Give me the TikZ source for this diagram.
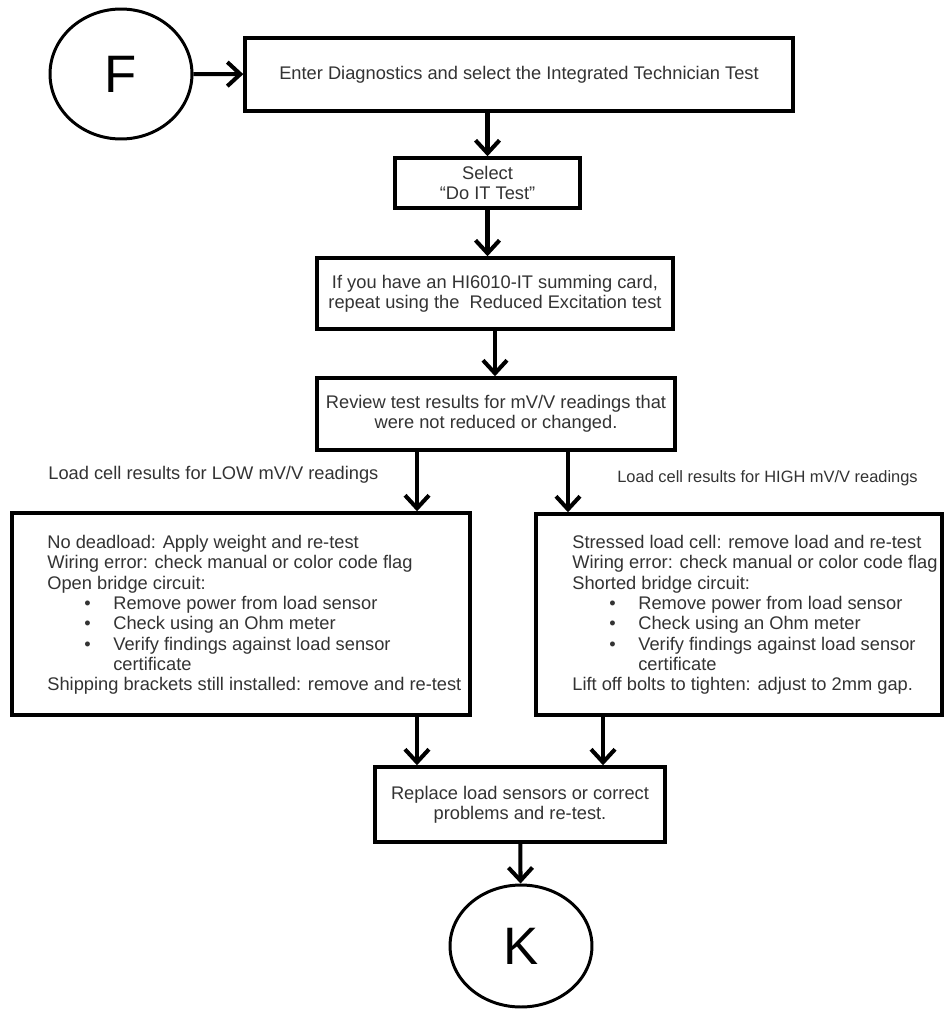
\documentclass[tikz,border=0pt]{standalone}
\usepackage{fontspec}
\setmainfont{Liberation Sans}
\usetikzlibrary{arrows.meta,shapes.geometric}

\newcommand{\bitem}[1]{\makebox[1.32cm][l]{\hspace{0.74cm}\textbullet}#1}
\newcommand{\bcont}[1]{\makebox[1.32cm][l]{}#1}

\tikzset{
  stepbox/.style={draw, line width=2pt, fill=white, text=black!80, align=center,
    font=\fontsize{10.4}{11.6}\selectfont, inner sep=0pt},
  bigtext/.style={anchor=north west, inner sep=0pt, align=left, text=black!80,
    font=\fontsize{10.4}{11.55}\selectfont},
  term/.style={draw, ellipse, line width=1.7pt, inner sep=0pt,
    font=\fontsize{30}{30}\selectfont},
  sidelabel/.style={anchor=west, inner sep=0pt, text=black!80},
  arr/.style={line width=2.3pt, -{Straight Barb[length=2.6mm,width=4.8mm]}}
}

\begin{document}
\begin{tikzpicture}[x=0.02cm, y=-0.02cm]
    \useasboundingbox[fill=white] (0,0) rectangle (944,1011);

    % terminals
    \node[term, minimum width=2.84cm, minimum height=2.6cm] (F) at (121,74) {F};
    \node[term, minimum width=2.84cm, minimum height=2.44cm] (K) at (521,946) {K};

    % steps
    \node[stepbox, minimum width=10.96cm, minimum height=1.46cm] (enter) at (519,74.5)
        {Enter Diagnostics and select the Integrated Technician Test};
    \node[stepbox, minimum width=3.7cm, minimum height=1.0cm] (sel) at (487.5,183)
        {Select\\``Do IT Test''};
    \node[stepbox, minimum width=7.12cm, minimum height=1.42cm] (card) at (495,293.5)
        {If you have an HI6010-IT summing card,\\repeat using the \ Reduced Excitation test};
    \node[stepbox, minimum width=7.16cm, minimum height=1.44cm] (review) at (496,414)
        {Review test results for mV/V readings that\\were not reduced or changed.};
    \node[stepbox, minimum width=9.16cm, minimum height=4.04cm] (low) at (241,614) {};
    \node[stepbox, minimum width=8.12cm, minimum height=4.02cm] (high) at (739,614.5) {};
    \node[stepbox, minimum width=5.8cm, minimum height=1.5cm] (fix) at (520,804.5)
        {Replace load sensors or correct\\problems and re-test.};

    % box contents
    \node[bigtext] (lowtext) at (47,535) {%
        No deadload: Apply weight and re-test\\
        Wiring error: check manual or color code flag\\
        Open bridge circuit:\\
        \bitem{Remove power from load sensor}\\
        \bitem{Check using an Ohm meter}\\
        \bitem{Verify findings against load sensor}\\
        \bcont{certificate}\\
        Shipping brackets still installed: remove and re-test};
    \node[bigtext] (hightext) at (572,535) {%
        Stressed load cell: remove load and re-test\\
        Wiring error: check manual or color code flag\\
        Shorted bridge circuit:\\
        \bitem{Remove power from load sensor}\\
        \bitem{Check using an Ohm meter}\\
        \bitem{Verify findings against load sensor}\\
        \bcont{certificate}\\
        Lift off bolts to tighten: adjust to 2mm gap.};

    \node[sidelabel, font=\fontsize{10.4}{12}\selectfont] (lowlabel) at (48,475)
        {Load cell results for LOW mV/V readings};
    \node[sidelabel, font=\fontsize{9.35}{11}\selectfont] (highlabel) at (617,478)
        {Load cell results for HIGH mV/V readings};

    % connectors
    \draw[arr] (F) -- (enter);
    \draw[arr] (enter.south -| sel.north) -- (sel.north);
    \draw[arr] (sel.south) -- (sel.south |- card.north);
    \draw[arr] (card.south) -- (card.south |- review.north);
    \draw[arr] ([xshift=-1.58cm]review.south) -- ([xshift=-1.58cm]review.south |- low.north);
    \draw[arr] ([xshift=1.44cm]review.south) -- ([xshift=1.44cm]review.south |- high.north);
    \draw[arr] ([xshift=3.52cm]low.south) -- ([xshift=3.52cm]low.south |- fix.north);
    \draw[arr] ([xshift=-2.72cm]high.south) -- ([xshift=-2.72cm]high.south |- fix.north);
    \draw[arr] (fix) -- (K);
\end{tikzpicture}
\end{document}
